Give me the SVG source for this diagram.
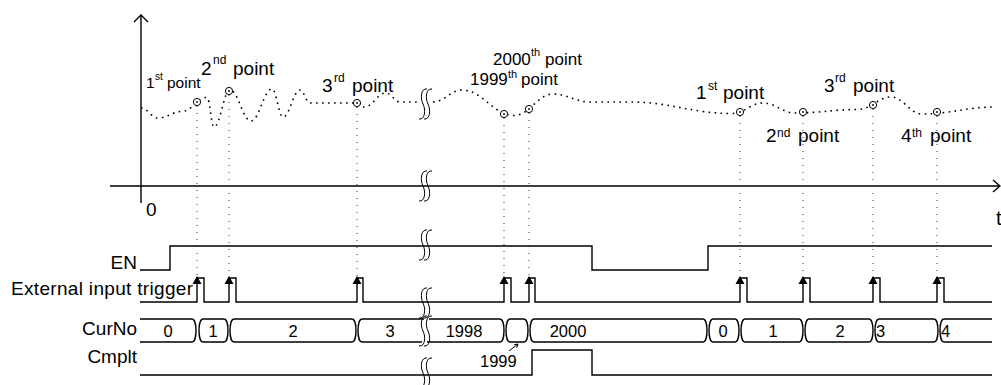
<svg xmlns="http://www.w3.org/2000/svg" width="1001" height="385" viewBox="0 0 1001 385">
<style>
text{font-family:"Liberation Sans",Arial,sans-serif;fill:#000}
.ln{fill:none;stroke:#000;stroke-width:1.4}
.wave{fill:none;stroke:#000;stroke-width:1.6;stroke-dasharray:1.6 4.4}
.vd{fill:none;stroke:#333;stroke-width:1;stroke-dasharray:1 6}
.pt{fill:#fff;stroke:#000;stroke-width:1}
.brk{fill:none;stroke:#000;stroke-width:1}
.lab{font-size:19px}
.sup{font-size:12px}
.num{font-size:16.5px;text-anchor:middle}
</style>
<defs>
<path id="brk" class="brk" d="M4,-15 C-2,-16 -3,-6 0,0 C3,6 2,16 -4,15 M9,-15 C3,-16 2,-6 5,0 C8,6 7,16 1,15"/>
</defs>
<rect width="1001" height="385" fill="#fff"/>

<g id="axes">
<path class="ln" d="M141,15 V203 M110,186 H1000"/>
<path class="ln" d="M134,22 L141,15 L148,22 M993,180 L1000,186 L993,192"/>
<text class="lab" x="146" y="216">0</text>
<text class="lab" x="996" y="225" style="font-size:20px">t</text>
</g>

<g id="wave">
<path class="wave" d="M141,108 C147.8,108 151.2,118 158,118 C167.6,118 172.4,111.5 182,111.5 C192,111.5 197,97.5 207,97.5 C209.8,97.5 211.2,127 214,127 C220.4,127 223.6,90 230,90 C238.4,90 242.6,121 251,121 C259.4,121 263.6,89 272,89 C276.4,89 278.6,117 283,117 C289.8,117 293.2,90 300,90 C304,90 306,103 310,103 L357,103 C359.8,103 361.2,107 364,107 C372.8,107 377.2,93 386,93 C391.6,93 394.4,102 400,102 L420,102"/>
<path class="wave" d="M433,102 C444.6,102 450.4,90 462,90 C482.8,90 493.2,115.5 514,115.5 C529.6,115.5 537.4,94 553,94 C567.8,94 575.2,102 590,102 L630,102 C670.8,102 691.2,113.5 732,113.5 C744.4,113.5 750.6,103 763,103 C775.8,103 782.2,113 795,113 C820.2,113 832.8,109.5 858,109.5 C871.2,109.5 877.8,97 891,97 C903.4,97 909.6,114 922,114 C951.2,114 965.8,107 995,107"/>
</g>

<g id="guides">
<path class="vd" d="M197,106 V277 M229,95 V277 M357,107 V277 M504,118 V277 M529,113 V277 M740,116 V277 M803,116 V277 M873,109 V277 M937,116 V277"/>
</g>

<g id="points">
<circle class="pt" cx="197" cy="102" r="3.6"/><circle cx="197" cy="102" r="0.9"/>
<circle class="pt" cx="229" cy="91" r="3.6"/><circle cx="229" cy="91" r="0.9"/>
<circle class="pt" cx="357" cy="103" r="3.6"/><circle cx="357" cy="103" r="0.9"/>
<circle class="pt" cx="504" cy="114" r="3.6"/><circle cx="504" cy="114" r="0.9"/>
<circle class="pt" cx="529" cy="109" r="3.6"/><circle cx="529" cy="109" r="0.9"/>
<circle class="pt" cx="740" cy="112" r="3.6"/><circle cx="740" cy="112" r="0.9"/>
<circle class="pt" cx="803" cy="112" r="3.6"/><circle cx="803" cy="112" r="0.9"/>
<circle class="pt" cx="873" cy="105" r="3.6"/><circle cx="873" cy="105" r="0.9"/>
<circle class="pt" cx="937" cy="112" r="3.6"/><circle cx="937" cy="112" r="0.9"/>
</g>

<g id="point-labels">
<text x="146" y="88" style="font-size:15.5px">1<tspan x="155" y="80" style="font-size:10px">st</tspan><tspan x="167" y="88">point</tspan></text>
<text class="lab" x="201" y="75">2<tspan class="sup" x="213" y="64">nd</tspan><tspan x="233" y="75">point</tspan></text>
<text class="lab" x="322" y="92">3<tspan class="sup" x="334" y="82">rd</tspan><tspan x="352" y="92">point</tspan></text>
<text x="493" y="65" style="font-size:17px">2000<tspan x="531" y="56" style="font-size:11px">th</tspan><tspan x="545" y="65">point</tspan></text>
<text x="470" y="85" style="font-size:17px">1999<tspan x="508" y="78" style="font-size:11px">th</tspan><tspan x="521" y="85">point</tspan></text>
<text class="lab" x="696" y="99">1<tspan class="sup" x="708" y="90">st</tspan><tspan x="723" y="99">point</tspan></text>
<text class="lab" x="766" y="142">2<tspan class="sup" x="777" y="137">nd</tspan><tspan x="798" y="142">point</tspan></text>
<text class="lab" x="824" y="92">3<tspan class="sup" x="835" y="82">rd</tspan><tspan x="853" y="92">point</tspan></text>
<text class="lab" x="901" y="142">4<tspan class="sup" x="912" y="137">th</tspan><tspan x="930" y="142">point</tspan></text>
</g>

<g id="signal-labels" class="lab">
<text x="137" y="269" text-anchor="end">EN</text>
<text x="11" y="295" textLength="182" lengthAdjust="spacing">External input trigger</text>
<text x="137" y="335" text-anchor="end">CurNo</text>
<text x="137" y="363" text-anchor="end">Cmplt</text>
</g>

<g id="EN">
<path class="ln" d="M140,270 H170 V246 H592 V270 H708 V246 H992"/>
</g>

<g id="trigger">
<path class="ln" d="M140,302 H197 V278 H204 V302 H229 V278 H236 V302 H357 V278 H363 V302 H504 V278 H511 V302 H529 V278 H535 V302 H740 V278 H747 V302 H803 V278 H810 V302 H873 V278 H880 V302 H937 V278 H944 V302 H992"/>
<g fill="#000">
<polygon points="197,276 192.5,284 201.5,284"/>
<polygon points="229,276 224.5,284 233.5,284"/>
<polygon points="357,276 352.5,284 361.5,284"/>
<polygon points="504,276 499.5,284 508.5,284"/>
<polygon points="529,276 524.5,284 533.5,284"/>
<polygon points="740,276 735.5,284 744.5,284"/>
<polygon points="803,276 798.5,284 807.5,284"/>
<polygon points="873,276 868.5,284 877.5,284"/>
<polygon points="937,276 932.5,284 941.5,284"/>
</g>
</g>

<g id="CurNo">
<path class="ln" d="M140,319 H192 C195,319 196,326 196,330.5 C196,335 195,342 192,342 H140"/>
<path class="ln" d="M203,319 H224 C227,319 228,326 228,330.5 C228,335 227,342 224,342 H203 C200,342 199,335 199,330.5 C199,326 200,319 203,319 Z"/>
<path class="ln" d="M234,319 H352 C355,319 356,326 356,330.5 C356,335 355,342 352,342 H234 C231,342 230,335 230,330.5 C230,326 231,319 234,319 Z"/>
<path class="ln" d="M424,319 H362 C359,319 358,326 358,330.5 C358,335 359,342 362,342 H422"/>
<path class="ln" d="M429,319 H500 C503,319 504,326 504,330.5 C504,335 503,342 500,342 H427"/>
<path class="ln" d="M510,319 H524 C527,319 528,326 528,330.5 C528,335 527,342 524,342 H510 C507,342 506,335 506,330.5 C506,326 507,319 510,319 Z"/>
<path class="ln" d="M534,319 H703 C706,319 707,326 707,330.5 C707,335 706,342 703,342 H534 C531,342 530,335 530,330.5 C530,326 531,319 534,319 Z"/>
<path class="ln" d="M713,319 H735 C738,319 739,326 739,330.5 C739,335 738,342 735,342 H713 C710,342 709,335 709,330.5 C709,326 710,319 713,319 Z"/>
<path class="ln" d="M745,319 H799 C802,319 803,326 803,330.5 C803,335 802,342 799,342 H745 C742,342 741,335 741,330.5 C741,326 742,319 745,319 Z"/>
<path class="ln" d="M809,319 H869 C872,319 873,326 873,330.5 C873,335 872,342 869,342 H809 C806,342 805,335 805,330.5 C805,326 806,319 809,319 Z"/>
<path class="ln" d="M879,319 H934 C937,319 938,326 938,330.5 C938,335 937,342 934,342 H879 C876,342 875,335 875,330.5 C875,326 876,319 879,319 Z"/>
<path class="ln" d="M992,319 H944 C941,319 940,326 940,330.5 C940,335 941,342 944,342 H992"/>
<text class="num" x="168" y="337">0</text>
<text class="num" x="213" y="337">1</text>
<text class="num" x="293" y="337">2</text>
<text class="num" x="390" y="337">3</text>
<text class="num" x="464" y="337">1998</text>
<text class="num" x="568" y="337">2000</text>
<text class="num" x="723" y="337">0</text>
<text class="num" x="773" y="337">1</text>
<text class="num" x="840" y="337">2</text>
<text x="876" y="337" style="font-size:16.5px">3</text>
<text x="941" y="337" style="font-size:16.5px">4</text>
<text x="480" y="367" style="font-size:16.5px">1999</text>
<path fill="none" stroke="#000" stroke-width="1" d="M509,351 L518,344 M514.1,344.8 L518,344 L516.7,347.8"/>
</g>

<g id="Cmplt">
<path class="ln" d="M140,375 H532 V350 H592 V375 H992"/>
</g>

<g id="breaks">
<use href="#brk" transform="translate(423,104)"/>
<use href="#brk" transform="translate(423,186)"/>
<use href="#brk" transform="translate(423,245)"/>
<use href="#brk" transform="translate(423,303)"/>
<use href="#brk" transform="translate(423,331)"/>
<use href="#brk" transform="translate(423,373)"/>
</g>
</svg>
